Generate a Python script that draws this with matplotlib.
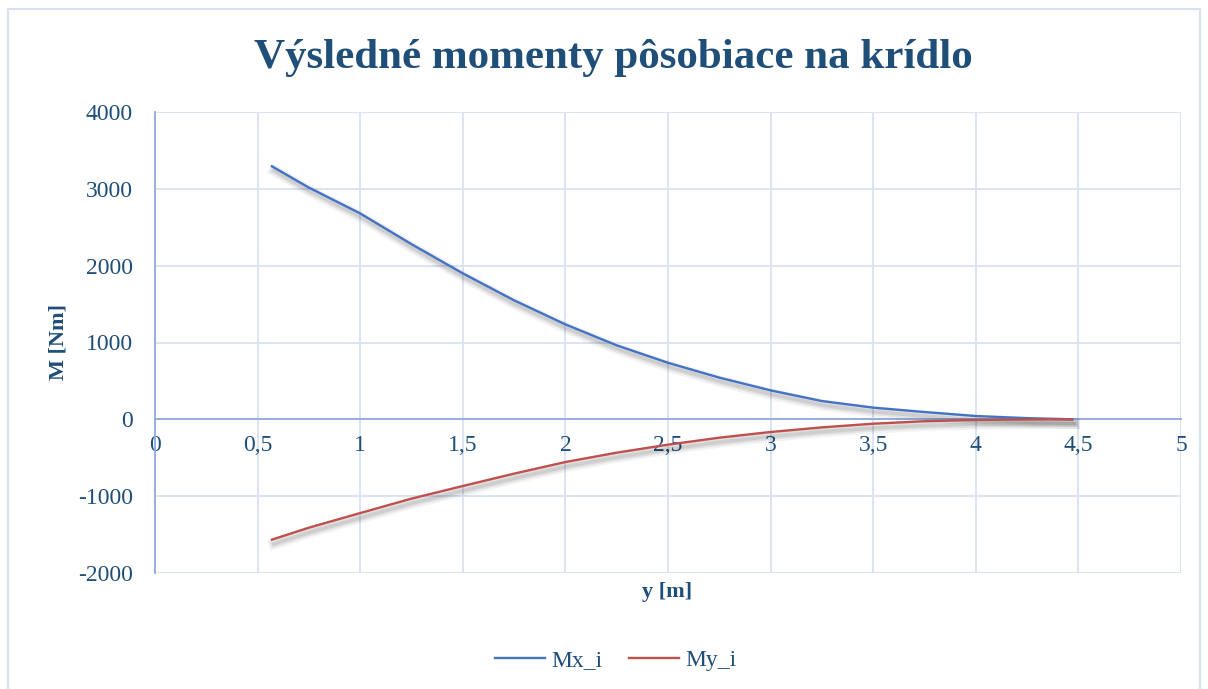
import numpy as np
import matplotlib.pyplot as plt
import matplotlib.patheffects as pe
from matplotlib.ticker import FuncFormatter, MultipleLocator
from matplotlib.patches import Rectangle
from matplotlib.lines import Line2D

# rozpatie kridla y [m] a momenty [Nm]
y_m = [0.57, 0.75, 1.0, 1.25, 1.5, 1.75, 2.0, 2.25, 2.5, 2.75, 3.0, 3.25, 3.5, 3.75, 4.0, 4.25, 4.47]
Mx_i = [3293, 3016, 2680, 2280, 1900, 1549, 1236, 963, 736, 543, 377, 238, 152, 95, 43, 15, 0]
My_i = [-1566, -1410, -1220, -1032, -868, -707, -556, -434, -330, -239, -165, -105, -57, -25, -8, -2, 0]

title = 'Výsledné momenty pôsobiace na krídlo'
dark = '#1F4E79'
grid_c = '#D9E2F3'
axis_c = '#8FAADC'
c_mx = '#4472C4'
c_my = '#C0504D'

plt.rcParams['font.family'] = ['Liberation Serif', 'DejaVu Serif']
plt.rcParams['axes.unicode_minus'] = False

fig = plt.figure(figsize=(12.08, 6.89), dpi=100)
ax = fig.add_axes([155/1208, 1 - 573/689, 1026/1208, 461/689])

# ramik okolo grafu
fig.patches.append(Rectangle((8/1208, -0.02), 1192/1208, 1 - 9/689 + 0.02,
                             transform=fig.transFigure, fill=False,
                             edgecolor=grid_c, linewidth=1.5))

# mekky tien pod ciarami
shadow = [pe.SimpleLineShadow(offset=(1.5, -3), shadow_color='#000000', alpha=0.05, linewidth=8),
          pe.SimpleLineShadow(offset=(1.5, -3), shadow_color='#000000', alpha=0.07, linewidth=5),
          pe.SimpleLineShadow(offset=(1.5, -3), shadow_color='#000000', alpha=0.08, linewidth=2.5),
          pe.Normal()]
ax.plot(y_m, Mx_i, color=c_mx, lw=1.7, path_effects=shadow, zorder=3)
ax.plot(y_m, My_i, color=c_my, lw=1.7, path_effects=shadow, zorder=3)

ax.set_xlim(0, 5)
ax.set_ylim(-2000, 4000)
ax.xaxis.set_major_locator(MultipleLocator(0.5))
ax.yaxis.set_major_locator(MultipleLocator(1000))
ax.xaxis.set_major_formatter(FuncFormatter(lambda v, p: ('%g' % v).replace('.', ',')))
ax.grid(True, color=grid_c, lw=1.3)
ax.set_axisbelow(True)

for s in ['top', 'right']:
    ax.spines[s].set_visible(False)
ax.spines['bottom'].set_position(('data', 0))
ax.spines['bottom'].set_color(axis_c)
ax.spines['left'].set_color(axis_c)
ax.spines['bottom'].set_linewidth(1.3)
ax.spines['left'].set_linewidth(1.3)
ax.tick_params(axis='both', length=0, labelsize=17, labelcolor=dark)
ax.tick_params(axis='x', pad=11)
ax.tick_params(axis='y', pad=16)

fig.text(613/1208, 1 - 58/689, title, ha='center', va='center',
         fontsize=31, fontweight='bold', color=dark)
fig.text(58/1208, 1 - 342/689, 'M [Nm]', ha='center', va='center', rotation=90,
         fontsize=16, fontweight='bold', color=dark)
fig.text(667/1208, 1 - 592/689, 'y [m]', ha='center', va='center',
         fontsize=16, fontweight='bold', color=dark)

handles = [Line2D([], [], color=c_mx, lw=1.7), Line2D([], [], color=c_my, lw=1.7)]
leg = fig.legend(handles, ['Mx_i', 'My_i'], loc='center',
                 bbox_to_anchor=(616/1208, 1 - 660/689), ncol=2,
                 frameon=False, fontsize=17, handlelength=2.1, columnspacing=1.1,
                 handletextpad=0.3)
for t in leg.get_texts():
    t.set_color(dark)

fig.savefig('out.png', dpi=100)
